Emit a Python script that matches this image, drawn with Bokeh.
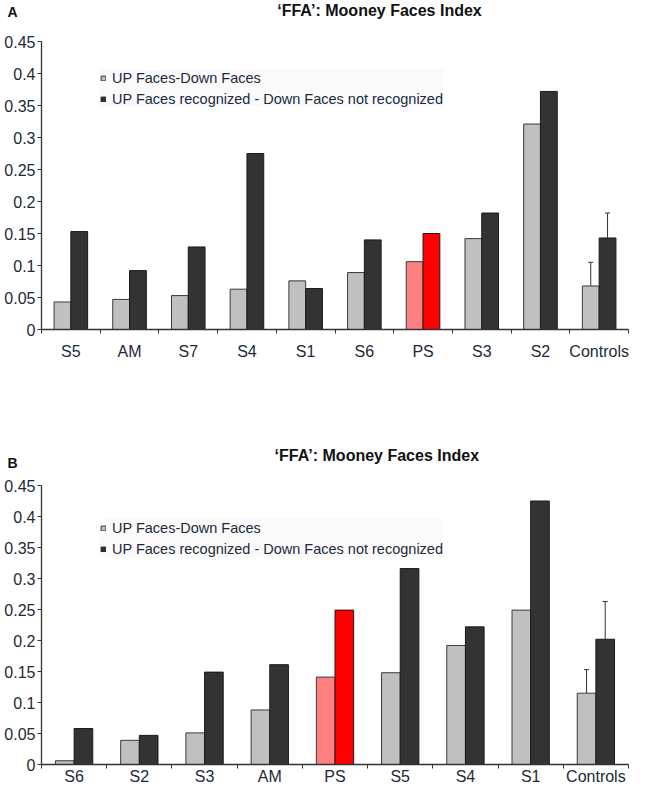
from bokeh.plotting import figure
from bokeh.layouts import column
from bokeh.models import (Range1d, FixedTicker, NumeralTickFormatter, Legend, LegendItem,
                          ColumnDataSource, Whisker, TeeHead, LinearAxis)
from bokeh.core.properties import value
from bokeh.embed import file_html
from bokeh.resources import INLINE

# ---------------- data ----------------
series_names = ["UP Faces-Down Faces", "UP Faces recognized - Down Faces not recognized"]
chart_title = "\u2018FFA\u2019: Mooney Faces Index"
y_ticks = [0, 0.05, 0.1, 0.15, 0.2, 0.25, 0.3, 0.35, 0.4, 0.45]

a_cats = ["S5", "AM", "S7", "S4", "S1", "S6", "PS", "S3", "S2", "Controls"]
a_updown = [0.043, 0.047, 0.053, 0.063, 0.076, 0.089, 0.106, 0.142, 0.321, 0.068]
a_recog = [0.153, 0.092, 0.129, 0.275, 0.064, 0.140, 0.150, 0.182, 0.372, 0.143]
a_err_updown = {"Controls": 0.037}
a_err_recog = {"Controls": 0.039}

b_cats = ["S6", "S2", "S3", "AM", "PS", "S5", "S4", "S1", "Controls"]
b_updown = [0.006, 0.039, 0.051, 0.088, 0.141, 0.148, 0.192, 0.249, 0.115]
b_recog = [0.058, 0.047, 0.149, 0.161, 0.249, 0.316, 0.222, 0.425, 0.202]
b_err_updown = {"Controls": 0.038}
b_err_recog = {"Controls": 0.061}

# ---------------- style ----------------
FONT = "Liberation Sans"
TXT = "#1c2a3a"
TITLE_C = "#111111"
LIGHT, DARK = "#c0c0c0", "#333333"
PS_LIGHT, PS_DARK = "#ff8080", "#ff0000"
BW = 0.286
W = 632
LEFT = 41


def header(letter, h, letter_y, title_y, title_x, right):
    p = figure(width=W, height=h, output_backend="svg", toolbar_location=None,
               x_range=Range1d(LEFT, W - right), y_range=Range1d(h, 0),
               x_axis_type=None, y_axis_type=None,
               min_border_left=LEFT, min_border_right=right,
               min_border_top=0, min_border_bottom=0)
    p.outline_line_color = None
    p.xgrid.visible = False
    p.ygrid.visible = False
    # panel letter (A / B) sits left of the frame, as the single label of a bare axis
    ax = LinearAxis(ticker=FixedTicker(ticks=[letter_y]),
                    major_label_overrides={letter_y: letter})
    ax.axis_line_color = None
    ax.major_tick_line_color = None
    ax.minor_tick_line_color = None
    ax.major_tick_out = 0
    ax.major_label_standoff = 24
    ax.major_label_text_font = FONT
    ax.major_label_text_font_style = "bold"
    ax.major_label_text_font_size = "14px"
    ax.major_label_text_color = TITLE_C
    p.add_layout(ax, "left")
    p.text(x=[title_x], y=[title_y], text=[chart_title], text_font=value(FONT),
           text_font_style="bold", text_font_size="16px", text_color=TITLE_C,
           text_baseline="middle", text_align="center")
    return p


def panel(cats, updown, recog, err_ud, err_rc, height, top, bottom, right,
          xstand, leg_y):
    n = len(cats)
    p = figure(width=W, height=height, output_backend="svg", toolbar_location=None,
               x_range=Range1d(0, n), y_range=Range1d(0, 0.45),
               min_border_left=LEFT, min_border_right=right,
               min_border_top=top, min_border_bottom=bottom)
    p.outline_line_color = None
    p.xgrid.visible = False
    p.ygrid.visible = False

    xs = [i + 0.5 for i in range(n)]
    lc = [PS_LIGHT if c == "PS" else LIGHT for c in cats]
    dc = [PS_DARK if c == "PS" else DARK for c in cats]
    src = ColumnDataSource(dict(x1=[x - BW / 2 for x in xs], x2=[x + BW / 2 for x in xs],
                                ud=updown, rc=recog, lc=lc, dc=dc))
    r1 = p.vbar(x="x1", top="ud", bottom=0, width=BW, fill_color="lc", line_color="#3a3a3a",
                line_width=1, source=src)
    r2 = p.vbar(x="x2", top="rc", bottom=0, width=BW, fill_color="dc", line_color="#1a1a1a",
                line_width=1, source=src)

    # error bars
    for errs, off, vals in ((err_ud, -BW / 2, updown), (err_rc, BW / 2, recog)):
        bx, lo, hi = [], [], []
        for c, e in errs.items():
            i = cats.index(c)
            bx.append(xs[i] + off)
            lo.append(vals[i])
            hi.append(vals[i] + e)
        es = ColumnDataSource(dict(base=bx, lower=lo, upper=hi))
        w = Whisker(base="base", lower="lower", upper="upper", source=es, dimension="height",
                    upper_head=TeeHead(size=5, line_color="#333333", line_width=1),
                    lower_head=None, line_color="#333333", line_width=1, level="annotation")
        p.add_layout(w)

    leg = Legend(items=[LegendItem(label=series_names[0], renderers=[r1], index=0),
                        LegendItem(label=series_names[1], renderers=[r2], index=0)],
                 location=(59, leg_y), glyph_width=6, glyph_height=6, label_height=17,
                 label_standoff=6, spacing=4, padding=4, margin=0,
                 label_text_font=FONT, label_text_font_size="14.5px", label_text_color=TXT,
                 background_fill_color="#fafafa", background_fill_alpha=1,
                 border_line_color=None)
    p.add_layout(leg, "center")

    ya = p.yaxis[0]
    ya.ticker = FixedTicker(ticks=y_ticks)
    ya.formatter = NumeralTickFormatter(format="0.[00]")
    ya.axis_line_color = "#333333"
    ya.axis_line_width = 1.3
    ya.major_tick_line_color = "#333333"
    ya.major_tick_out = 4
    ya.major_tick_in = 0
    ya.minor_tick_line_color = None
    ya.major_label_standoff = 2
    ya.major_label_text_font = FONT
    ya.major_label_text_font_size = "16px"
    ya.major_label_text_color = TXT

    xa = p.xaxis[0]
    xa.ticker = FixedTicker(ticks=xs, minor_ticks=list(range(n + 1)))
    xa.major_label_overrides = {x: c for x, c in zip(xs, cats)}
    xa.axis_line_color = "#333333"
    xa.axis_line_width = 1.3
    xa.major_tick_out = 0
    xa.major_tick_in = 0
    xa.major_tick_line_color = None
    xa.minor_tick_out = 4
    xa.minor_tick_in = 0
    xa.minor_tick_line_color = "#333333"
    xa.major_label_standoff = xstand
    xa.major_label_text_font = FONT
    xa.major_label_text_font_size = "16px"
    xa.major_label_text_color = TXT
    return p


ha = header("A", 30, 11, 10, 379, right=4)
pa = panel(a_cats, a_updown, a_recog, a_err_updown, a_err_recog,
           height=390, top=11, bottom=91, right=4, xstand=9, leg_y=222)
hb = header("B", 50, 42, 35, 378, right=1)
pb = panel(b_cats, b_updown, b_recog, b_err_updown, b_err_recog,
           height=317, top=15, bottom=17, right=1, xstand=-1, leg_y=207)

layout = column(ha, pa, hb, pb, spacing=0)
open("out.html", "w").write(file_html(layout, INLINE))
